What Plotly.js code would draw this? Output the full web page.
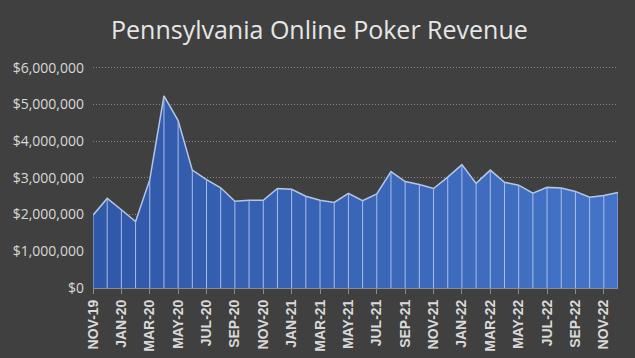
<!DOCTYPE html>
<html><head><meta charset="utf-8">
<script src="https://cdn.plot.ly/plotly-3.0.1.min.js"></script>
<style>html,body{margin:0;padding:0;background:#404040;}#chart{width:635px;height:358px;}</style>
</head><body><div id="chart"></div>
<script>
var months = ["NOV-19","DEC-19","JAN-20","FEB-20","MAR-20","APR-20","MAY-20","JUN-20","JUL-20","AUG-20","SEP-20","OCT-20","NOV-20","DEC-20",
"JAN-21","FEB-21","MAR-21","APR-21","MAY-21","JUN-21","JUL-21","AUG-21","SEP-21","OCT-21","NOV-21","DEC-21",
"JAN-22","FEB-22","MAR-22","APR-22","MAY-22","JUN-22","JUL-22","AUG-22","SEP-22","OCT-22","NOV-22","DEC-22"];
var revenue = [1980000,2440000,2130000,1810000,2950000,5230000,4560000,3210000,2950000,2730000,2360000,2390000,2390000,2710000,
2690000,2500000,2390000,2330000,2580000,2380000,2560000,3170000,2900000,2820000,2710000,3020000,
3360000,2850000,3210000,2880000,2800000,2580000,2740000,2720000,2630000,2470000,2520000,2600000];
var tickLabels = months.filter(function(m,i){return i%2===0;});
var yTicks = [0,1000000,2000000,3000000,4000000,5000000,6000000];
var yTickText = ['$0','$1,000,000','$2,000,000','$3,000,000','$4,000,000','$5,000,000','$6,000,000'];
var zeros = revenue.map(function(){return 0;});

var area = {
  x: months, y: revenue, type: 'scatter', mode: 'lines', fill: 'tozeroy',
  line: {color: '#b4c7e7', width: 1.5},
  fillgradient: {type: 'horizontal', colorscale: [[0,'#3058a8'],[1,'#4473c7']]},
  fillcolor: '#3b66b8',
  hoverinfo: 'skip'
};
var drops = {
  x: months, y: revenue, type: 'scatter', mode: 'markers',
  marker: {size: 1, color: 'rgba(0,0,0,0)'},
  error_y: {type: 'data', symmetric: false, array: zeros, arrayminus: revenue, width: 0, thickness: 1, color: '#a9bde8'},
  hoverinfo: 'skip'
};

var layout = {
  width: 635, height: 358,
  paper_bgcolor: '#404040', plot_bgcolor: '#404040',
  margin: {l: 93, r: 17, t: 64, b: 70},
  showlegend: false,
  title: {text: 'Pennsylvania Online Poker Revenue', x: 0.503, xanchor: 'center', y: 0.915, yanchor: 'middle',
    font: {family: 'Open Sans, Noto Sans, sans-serif', size: 25, color: '#e6e6e6'}},
  xaxis: {
    type: 'category', range: [0, months.length - 1],
    tickvals: tickLabels, ticktext: tickLabels, tickangle: -90,
    tickfont: {family: 'Liberation Sans, Arial, sans-serif', size: 14, color: '#d9d9d9', weight: 'bold'},
    ticks: 'outside', ticklen: 5, tickcolor: '#8c8c8c', tickwidth: 1,
    showline: true, linecolor: '#8c8c8c', linewidth: 1,
    showgrid: false, zeroline: false, fixedrange: true
  },
  yaxis: {
    range: [0, 6100000], tickvals: yTicks, ticktext: yTickText,
    tickfont: {family: 'Open Sans, Noto Sans, sans-serif', size: 14, color: '#d9d9d9'},
    ticks: '', ticklen: 0, automargin: false, ticklabelstandoff: 8,
    showgrid: true, gridcolor: '#8a8a8a', griddash: '1px,2px', gridwidth: 1,
    zeroline: false, showline: false, fixedrange: true
  }
};
Plotly.newPlot('chart', [area, drops], layout, {staticPlot: true, displayModeBar: false});
</script></body></html>
